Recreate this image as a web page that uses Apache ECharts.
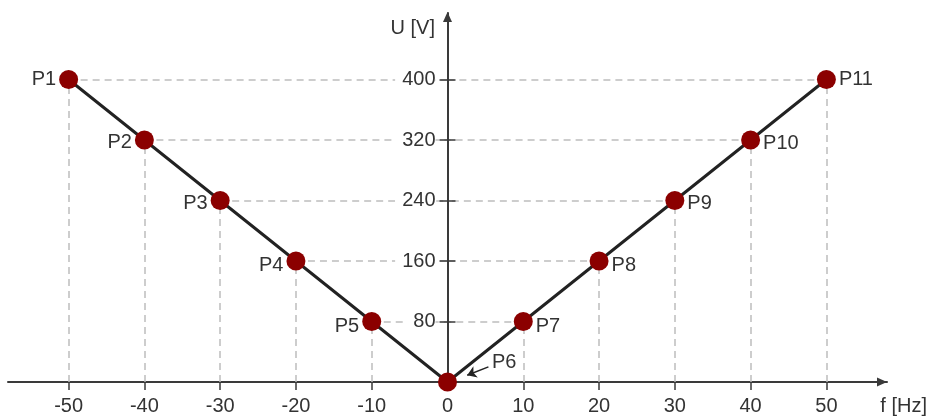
<!DOCTYPE html>
<html>
<head>
<meta charset="utf-8">
<script src="https://cdn.jsdelivr.net/npm/echarts@6/dist/echarts.min.js"></script>
<style>html,body{margin:0;padding:0;background:#fff}#c{width:928px;height:416px}</style>
</head>
<body>
<div id="c"></div>
<script>
// ---- data ----
const pointNames = ['P1','P2','P3','P4','P5','P6','P7','P8','P9','P10','P11'];
const freq = [-50,-40,-30,-20,-10,0,10,20,30,40,50];
const voltage = [400,320,240,160,80,0,80,160,240,320,400];
const xTicks = [-50,-40,-30,-20,-10,0,10,20,30,40,50];
const yTicks = [80,160,240,320,400];
const xName = 'f [Hz]';
const yName = 'U [V]';
// P6 annotation arrow (data coordinates): from label to point
const p6Arrow = [[5.4,20],[2.6,9]];

const FONT = '"Liberation Sans", Arial, sans-serif';
const TXT = '#333';
const AX = '#3a3a3a';

const X_MIN = -58, X_MAX = 58, Y_MIN = 0, Y_MAX = 488;
const G = {left:8, right:41, top:13, bottom:34};
const W = 928, H = 416;
const gridW = W - G.left - G.right;
// y axis drawn where f = 0
const yAxisOffset = -((0 - X_MIN) / (X_MAX - X_MIN)) * gridW;

// per-point label placement
const labelDy = [0,2,3,4,5,0,5,4,3,3,0];
const data = freq.map((f,i)=>{
  const d = {value:[f,voltage[i]], name: pointNames[i]};
  if (f < 0) d.label = {position:'left', distance:3, offset:[0,labelDy[i]]};
  else if (f > 0) d.label = {position:'right', distance:3, offset:[0,labelDy[i]]};
  else d.label = {position:[54,-20], align:'left', verticalAlign:'top'};
  return d;
});

const guides = [];
freq.forEach((f,i)=>{
  const v = voltage[i];
  if (v > 0) {
    guides.push({coords:[[f,0],[f,v]]});
    guides.push({coords:[[f,v],[0,v]]});
  }
});

const chart = echarts.init(document.getElementById('c'), null, {renderer:'canvas'});
chart.setOption({
  animation:false,
  backgroundColor:'#fff',
  textStyle:{fontFamily:FONT},
  grid:{left:G.left, right:G.right, top:G.top, bottom:G.bottom, containLabel:false, outerBoundsMode:'none'},
  xAxis:{
    type:'value', min:X_MIN, max:X_MAX,
    axisLine:{show:true, onZero:false, symbol:['none','triangle'], symbolSize:[9,10], symbolOffset:[0,-5], lineStyle:{color:AX, width:2}},
    axisTick:{show:true, length:8, lineStyle:{color:AX, width:1.5}, customValues:xTicks},
    axisLabel:{show:true, margin:14, fontSize:20, color:TXT, fontFamily:FONT, customValues:xTicks},
    splitLine:{show:false}
  },
  yAxis:[{
    type:'value', min:Y_MIN, max:Y_MAX, position:'left', offset:yAxisOffset, z:5,
    axisLine:{show:true, onZero:false, symbol:['none','triangle'], symbolSize:[9,10], symbolOffset:[0,-4], lineStyle:{color:AX, width:2}},
    axisTick:{show:true, length:8, lineStyle:{color:AX, width:1.5}, customValues:yTicks},
    axisLabel:{show:true, margin:12, fontSize:20, color:TXT, fontFamily:FONT, customValues:yTicks,
      backgroundColor:'#fff', padding:[0,0,0,7]},
    splitLine:{show:false}
  },{
    type:'value', min:Y_MIN, max:Y_MAX, position:'left', offset:yAxisOffset, z:5,
    axisLine:{show:false, onZero:false},
    axisTick:{show:true, inside:true, length:8, lineStyle:{color:AX, width:1.5}, customValues:yTicks},
    axisLabel:{show:false},
    splitLine:{show:false}
  }],
  graphic:[
    {type:'text', right:W-435, top:18, style:{text:yName, font:'20px '+FONT, fill:TXT}},
    {type:'text', right:1, top:396, style:{text:xName, font:'20px '+FONT, fill:TXT}}
  ],
  series:[
    {
      type:'lines', coordinateSystem:'cartesian2d', z:1, silent:true,
      polyline:false,
      lineStyle:{color:'#bdbdbd', width:1.5, type:[7,5], opacity:1},
      data:guides
    },
    {
      type:'lines', coordinateSystem:'cartesian2d', z:6, silent:true,
      symbol:['none','arrow'], symbolSize:[0,9],
      lineStyle:{color:'#222', width:1.5, opacity:1},
      data:[{coords:p6Arrow}]
    },
    {
      type:'line', z:10, clip:false,
      data:data,
      symbol:'circle', symbolSize:19,
      itemStyle:{color:'#8b0000'},
      lineStyle:{color:'#222', width:3},
      label:{show:true, formatter:'{b}', fontSize:20, color:TXT, fontFamily:FONT}
    }
  ]
});
</script>
</body>
</html>
